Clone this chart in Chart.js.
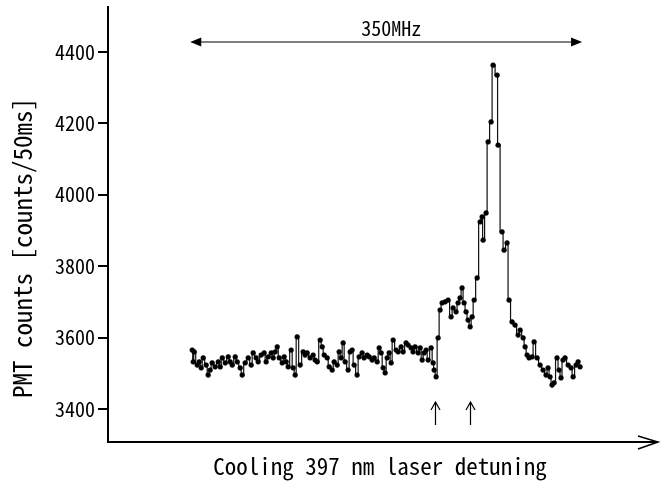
<!DOCTYPE html>
<html>
<head>
<meta charset="utf-8">
<script src="https://cdn.jsdelivr.net/npm/chart.js@4/dist/chart.umd.min.js"></script>
<style>
html,body{margin:0;padding:0;background:#fff;}
canvas{display:block;}
</style>
</head>
<body>
<canvas id="c" width="666" height="488"></canvas>
<script>
// Detuning (MHz, relative to first sample) and PMT counts
const detuning = [0,0.9,1.8,4.5,6.3,8.1,9.9,12.6,14.4,16.2,18.0,20.7,23.5,25.3,27.1,29.8,32.5,34.3,36.1,38.8,40.6,43.3,45.1,47.8,50.5,53.2,55.0,57.7,59.5,62.2,64.9,66.7,68.6,71.3,73.1,74.9,76.7,78.5,81.2,83.0,84.8,86.6,89.3,91.1,92.9,94.7,97.4,100.1,101.9,103.7,106.4,109.1,110.9,112.8,115.5,117.3,119.1,121.8,123.6,126.3,128.1,130.8,132.6,134.4,136.2,138.0,140.7,142.5,144.3,146.1,148.8,150.6,153.3,155.1,157.9,159.7,162.4,164.2,166.9,168.7,170.5,172.3,174.1,175.9,177.7,179.5,181.3,184.0,185.8,188.5,190.3,193.0,194.8,197.5,199.3,201.1,203.9,205.7,207.5,209.3,211.1,212.9,215.6,217.4,218.3,220.1,221.9,223.7,225.5,228.2,230.9,233.6,235.4,238.1,239.9,241.7,243.5,245.3,247.1,248.9,250.8,252.6,254.4,257.1,259.8,261.6,262.5,265.2,267.0,269.7,271.5,275.1,276.0,279.6,281.4,284.1,285.9,288.6,291.3,294.1,295.9,298.6,300.4,302.2,304.0,306.7,308.5,311.2,313.9,316.6,319.3,321.1,322.9,324.7,326.5,329.2,331.0,332.8,334.6,336.4,339.2,341.9,343.7,346.4,348.2,350.0];
const counts = [3565,3532,3560,3523,3532,3515,3543,3523,3495,3509,3529,3518,3532,3518,3543,3529,3546,3532,3523,3546,3532,3515,3495,3529,3543,3523,3557,3543,3532,3551,3557,3532,3546,3557,3543,3560,3574,3543,3529,3546,3532,3518,3565,3515,3495,3602,3523,3560,3551,3557,3543,3551,3537,3532,3593,3574,3551,3543,3518,3509,3532,3523,3560,3543,3585,3532,3509,3560,3565,3523,3495,3546,3557,3543,3551,3546,3537,3543,3532,3571,3557,3515,3501,3543,3557,3529,3593,3565,3560,3574,3560,3585,3579,3571,3560,3574,3557,3571,3537,3557,3565,3537,3571,3529,3509,3490,3599,3677,3697,3700,3705,3658,3683,3672,3697,3711,3739,3697,3672,3649,3630,3658,3705,3767,3924,3938,3873,3949,4148,4204,4363,4335,4139,3896,3845,3865,3705,3644,3635,3607,3621,3599,3574,3551,3543,3546,3588,3543,3523,3509,3495,3515,3490,3467,3473,3543,3509,3487,3537,3543,3523,3515,3490,3523,3532,3518];
const yTicks = [3400, 3600, 3800, 4000, 4200, 4400];
const markerDetunings = [219, 251];
const spanStartEnd = [0, 350];
const spanLabel = '350MHz';
const xTitle = 'Cooling 397 nm laser detuning';
const yTitle = 'PMT counts [counts/50ms]';

const FONT = '"Noto Sans Mono CJK JP", "Noto Sans CJK JP", monospace';

const decor = {
  id: 'decor',
  afterDraw(chart) {
    const ctx = chart.ctx;
    const ca = chart.chartArea;
    const xs = chart.scales.x;
    ctx.save();
    ctx.strokeStyle = '#000';
    ctx.fillStyle = '#000';
    // x axis with open arrow
    ctx.lineWidth = 2;
    ctx.beginPath();
    ctx.moveTo(ca.left - 1, ca.bottom);
    ctx.lineTo(ca.right + 2, ca.bottom);
    ctx.stroke();
    ctx.lineWidth = 1.5;
    ctx.beginPath();
    ctx.moveTo(ca.right - 18, ca.bottom - 6);
    ctx.lineTo(ca.right + 2, ca.bottom);
    ctx.lineTo(ca.right - 18, ca.bottom + 7);
    ctx.stroke();
    // span arrow
    const x1 = xs.getPixelForValue(spanStartEnd[0]) - 2;
    const x2 = xs.getPixelForValue(spanStartEnd[1]) + 2;
    const ya = 42;
    ctx.lineWidth = 1.2;
    ctx.beginPath();
    ctx.moveTo(x1 + 6, ya);
    ctx.lineTo(x2 - 6, ya);
    ctx.stroke();
    ctx.beginPath();
    ctx.moveTo(x1, ya); ctx.lineTo(x1 + 11, ya - 4.5); ctx.lineTo(x1 + 11, ya + 4.5); ctx.closePath(); ctx.fill();
    ctx.beginPath();
    ctx.moveTo(x2, ya); ctx.lineTo(x2 - 11, ya - 4.5); ctx.lineTo(x2 - 11, ya + 4.5); ctx.closePath(); ctx.fill();
    ctx.font = '20px ' + FONT;
    ctx.textAlign = 'center';
    ctx.textBaseline = 'middle';
    ctx.fillText(spanLabel, (x1 + x2) / 2 + 5, 28);
    // up arrows
    ctx.lineWidth = 1.2;
    markerDetunings.forEach(d => {
      const px = Math.round(xs.getPixelForValue(d)) + 0.5;
      ctx.beginPath();
      ctx.moveTo(px, 425); ctx.lineTo(px, 402);
      ctx.moveTo(px - 4.5, 410); ctx.lineTo(px, 402); ctx.lineTo(px + 4.5, 410);
      ctx.stroke();
    });
    // titles
    ctx.font = '23px ' + FONT;
    ctx.textAlign = 'center';
    ctx.textBaseline = 'middle';
    ctx.fillText(xTitle, (ca.left + ca.right) / 2 - 2, 466);
    ctx.font = '25px ' + FONT;
    ctx.translate(22, 248);
    ctx.rotate(-Math.PI / 2);
    ctx.fillText(yTitle, 0, 0);
    ctx.restore();
  }
};

new Chart(document.getElementById('c'), {
  type: 'line',
  data: {
    datasets: [{
      data: detuning.map((d, i) => ({ x: d, y: counts[i] })),
      borderColor: '#111',
      borderWidth: 1.2,
      stepped: 'middle',
      pointRadius: 2.4,
      pointBackgroundColor: '#000',
      pointBorderColor: '#000',
      pointBorderWidth: 0.6,
      fill: false
    }]
  },
  options: {
    responsive: false,
    devicePixelRatio: 1,
    animation: false,
    layout: { padding: { top: 7, right: 10, bottom: 46, left: 0 } },
    plugins: { legend: { display: false }, tooltip: { enabled: false } },
    scales: {
      x: { type: 'linear', display: false, min: -76, max: 418.5 },
      y: {
        min: 3307.6, max: 4526,
        afterBuildTicks: s => { s.ticks = yTicks.map(v => ({ value: v })); },
        afterFit: s => { s.width = 108; s.paddingTop = 0; s.paddingBottom = 0; },
        border: { display: true, color: '#000', width: 2 },
        grid: { display: true, drawOnChartArea: false, drawTicks: true, tickLength: 10, color: '#000', lineWidth: 2 },
        ticks: { color: '#000', padding: 3, font: { family: FONT, size: 20 }, callback: v => String(v) }
      }
    }
  },
  plugins: [decor]
});
</script>
</body>
</html>
